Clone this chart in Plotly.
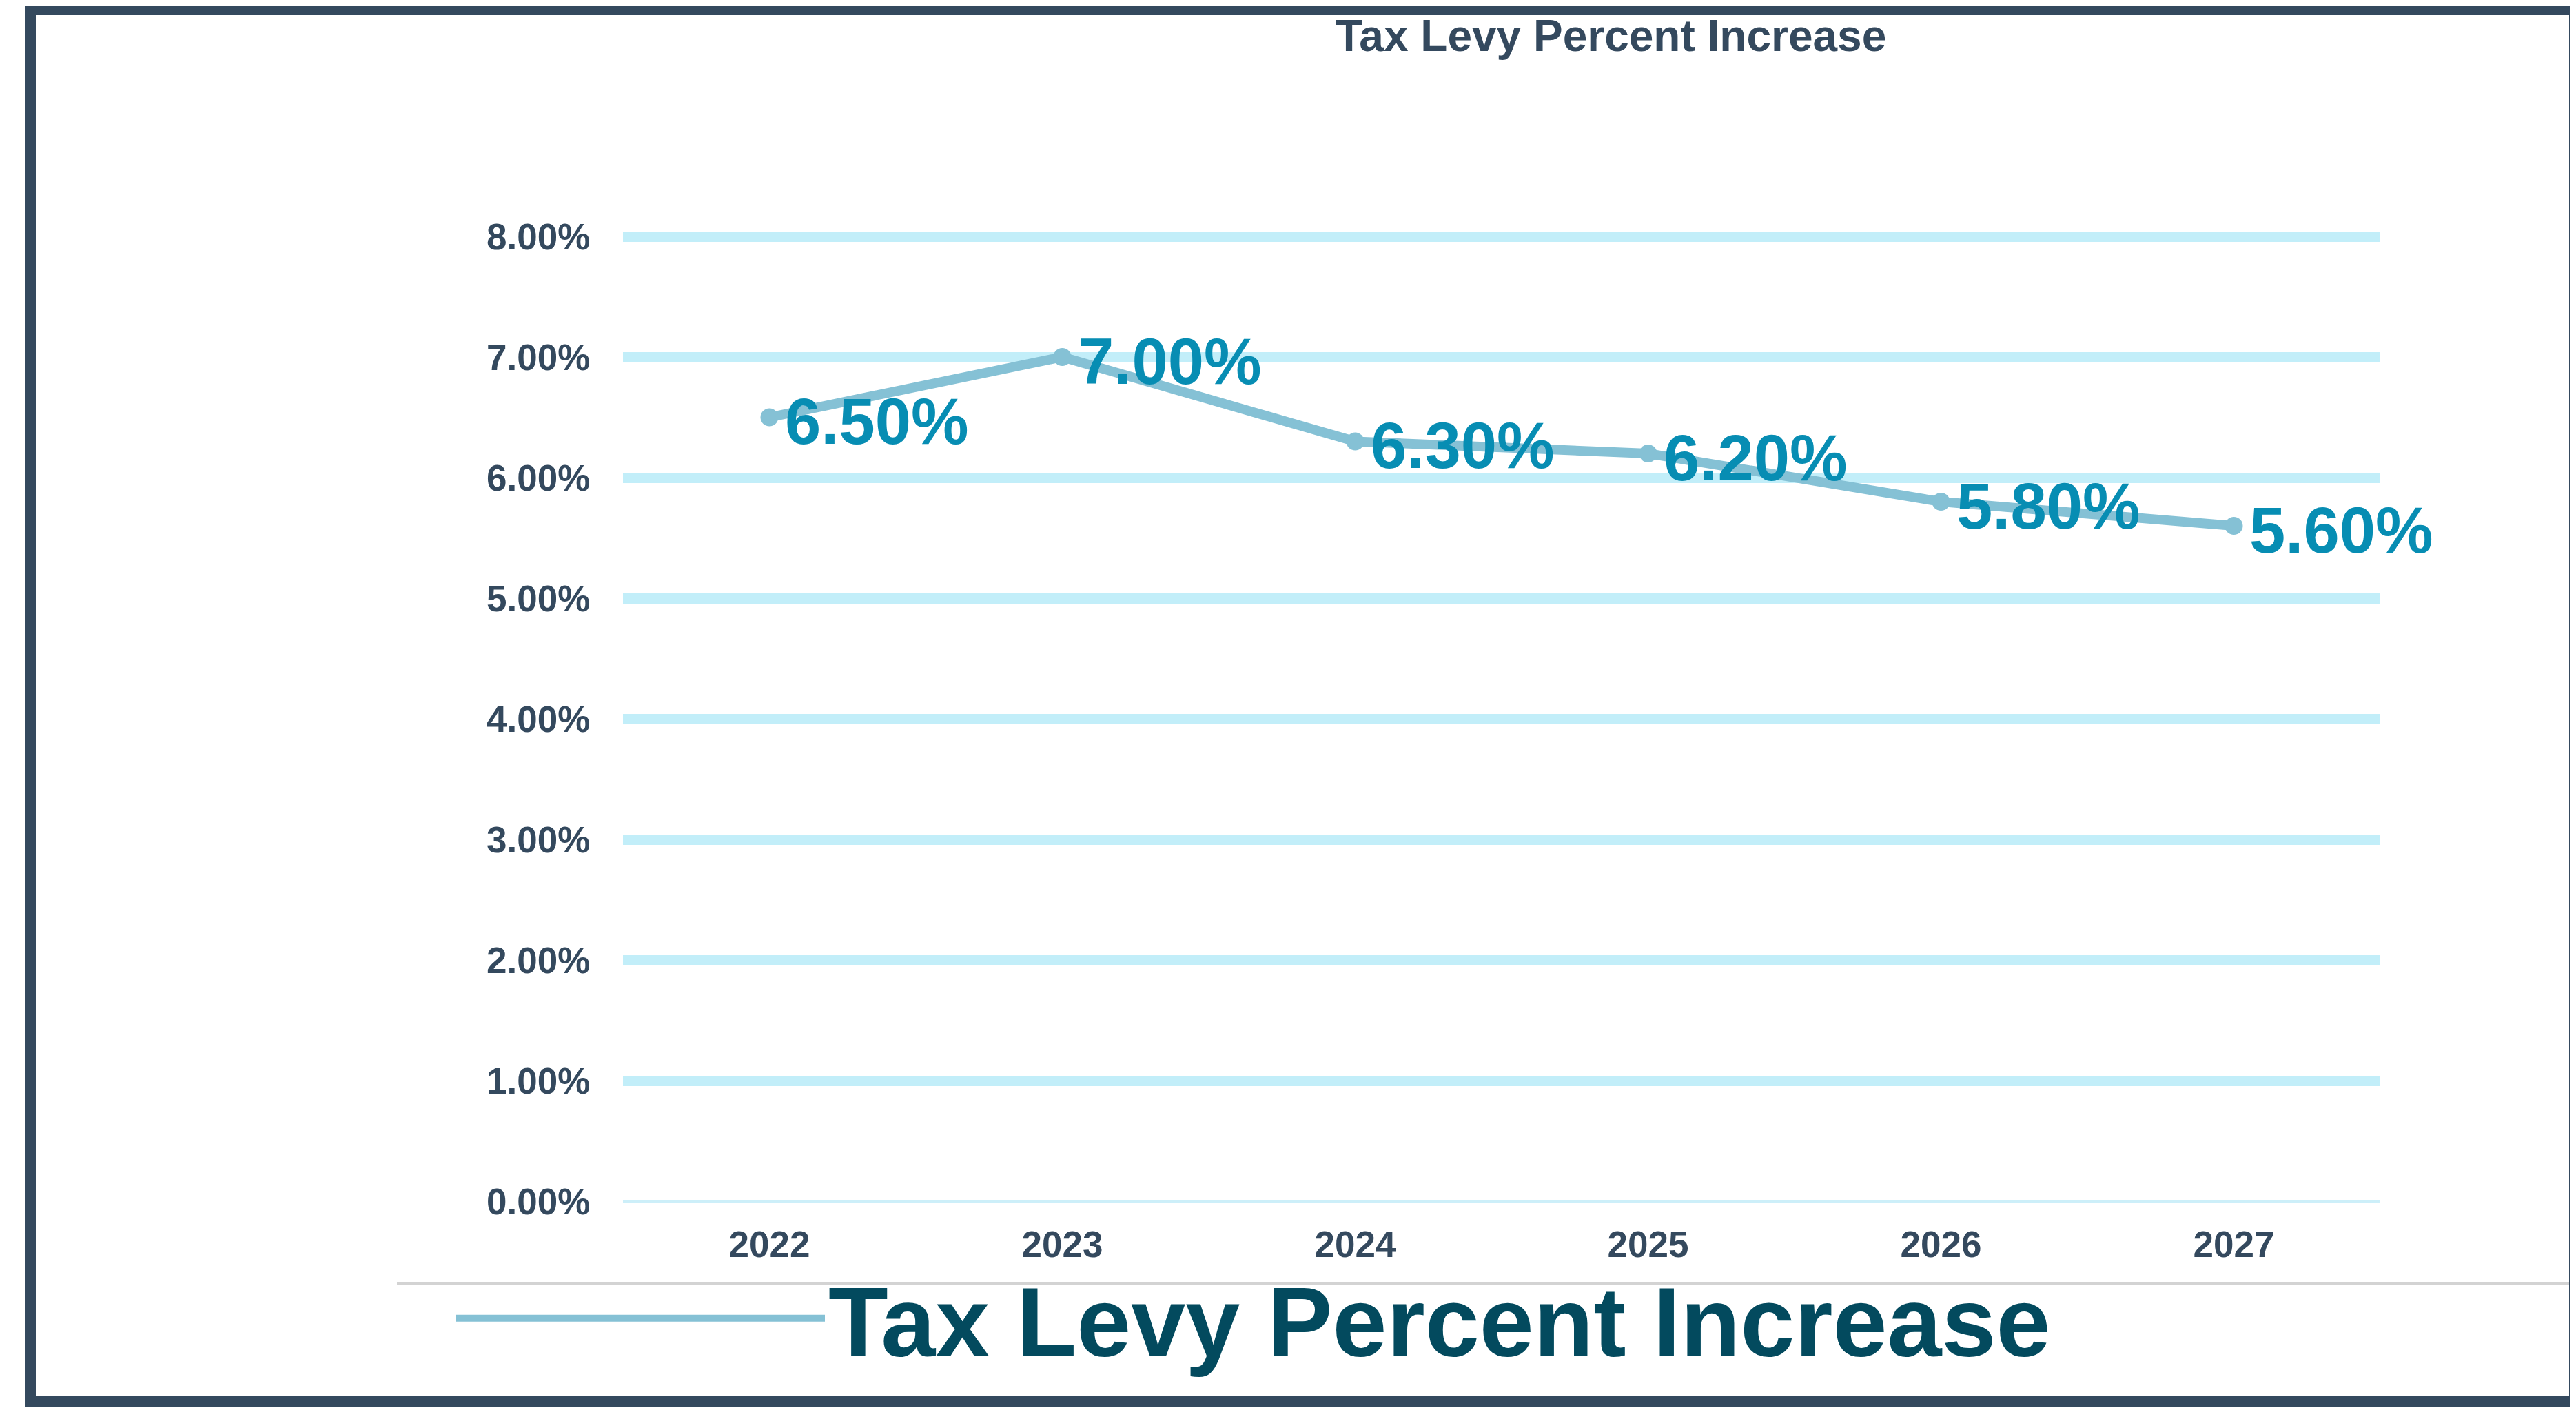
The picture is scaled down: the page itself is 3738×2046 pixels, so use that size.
import plotly.graph_objects as go

years = ["2022", "2023", "2024", "2025", "2026", "2027"]
levy_pct = [6.5, 7.0, 6.3, 6.2, 5.8, 5.6]
y_ticks = [0, 1, 2, 3, 4, 5, 6, 7, 8]
y_tick_text = ["0.00%", "1.00%", "2.00%", "3.00%", "4.00%", "5.00%", "6.00%", "7.00%", "8.00%"]
series_name = "Tax Levy Percent Increase"
chart_title = "Tax Levy Percent Increase"

W, H = 3738, 2046
OFF = 8  # page body margin
FONT = "Liberation Sans, Arial, sans-serif"
DARK = "#34495e"
LINE = "#85c1d5"
LABEL = "#078db3"
GRID = "#c2eef9"


def px(x):
    return (x - OFF) / W


def py(y):
    return (H - (y - OFF)) / H


fig = go.Figure()
fig.add_trace(go.Scatter(
    x=years, y=levy_pct, mode="lines+markers",
    line=dict(color=LINE, width=14),
    marker=dict(color=LINE, size=26),
    cliponaxis=False, showlegend=False, name=series_name,
))
# legend entry (line only)
fig.add_trace(go.Scatter(
    x=[None], y=[None], mode="lines",
    line=dict(color=LINE, width=16), name=series_name, showlegend=True,
))

# data labels, anchored to the data points through the axes (category index)
label_annos = [
    dict(x=i, y=v, xref="x", yref="y", text=f"{v:.2f}%", showarrow=False,
         xanchor="left", yanchor="middle", xshift=20, yshift=-6,
         font=dict(family=FONT, size=94, color=LABEL, weight="bold"))
    for i, v in enumerate(levy_pct)
]

y0_px, y8_px = 1743, 343
unit = (y0_px - y8_px) / 8
top_val = 8.5
top_px = y0_px - unit * top_val

fig.update_layout(
    width=W, height=H,
    margin=dict(l=0, r=0, t=0, b=0, autoexpand=False),
    paper_bgcolor="white", plot_bgcolor="white",
    font=dict(family=FONT, color=DARK),
    xaxis=dict(domain=[px(904), px(3454)], range=[-0.5, 5.5], type="category",
               showgrid=False, showline=False, zeroline=False, automargin=False,
               ticks="outside", ticklen=16, tickcolor="rgba(0,0,0,0)",
               tickfont=dict(family=FONT, size=53, color=DARK, weight="bold")),
    yaxis=dict(domain=[py(y0_px), py(top_px)], range=[0, top_val],
               tickvals=y_ticks, ticktext=y_tick_text, automargin=False,
               showgrid=True, gridcolor=GRID, gridwidth=15,
               zeroline=True, zerolinecolor="#cdeff9", zerolinewidth=3,
               showline=False,
               ticks="outside", ticklen=36, tickcolor="rgba(0,0,0,0)",
               tickfont=dict(family=FONT, size=53, color=DARK, weight="bold")),
    showlegend=True,
    legend=dict(x=px(656), y=py(1913), xanchor="left", yanchor="middle",
                orientation="h", itemwidth=536, bgcolor="rgba(0,0,0,0)",
                font=dict(family=FONT, size=142, color="#034a5e", weight="bold")),
    annotations=[dict(text=chart_title, x=px(2337), y=py(52), xref="paper", yref="paper",
                      xanchor="center", yanchor="middle", showarrow=False,
                      font=dict(family=FONT, size=64, color=DARK, weight="bold"))]
    + label_annos,
    shapes=[
        dict(type="line", xref="paper", yref="paper", x0=px(576), x1=px(3728),
             y0=py(1862), y1=py(1862), line=dict(color="#d3d3d3", width=4)),
        dict(type="rect", xref="paper", yref="paper", x0=px(44), x1=px(3736),
             y0=py(2033), y1=py(14), line=dict(color=DARK, width=16),
             fillcolor="rgba(0,0,0,0)"),
    ],
)

fig.write_html("out.html")
